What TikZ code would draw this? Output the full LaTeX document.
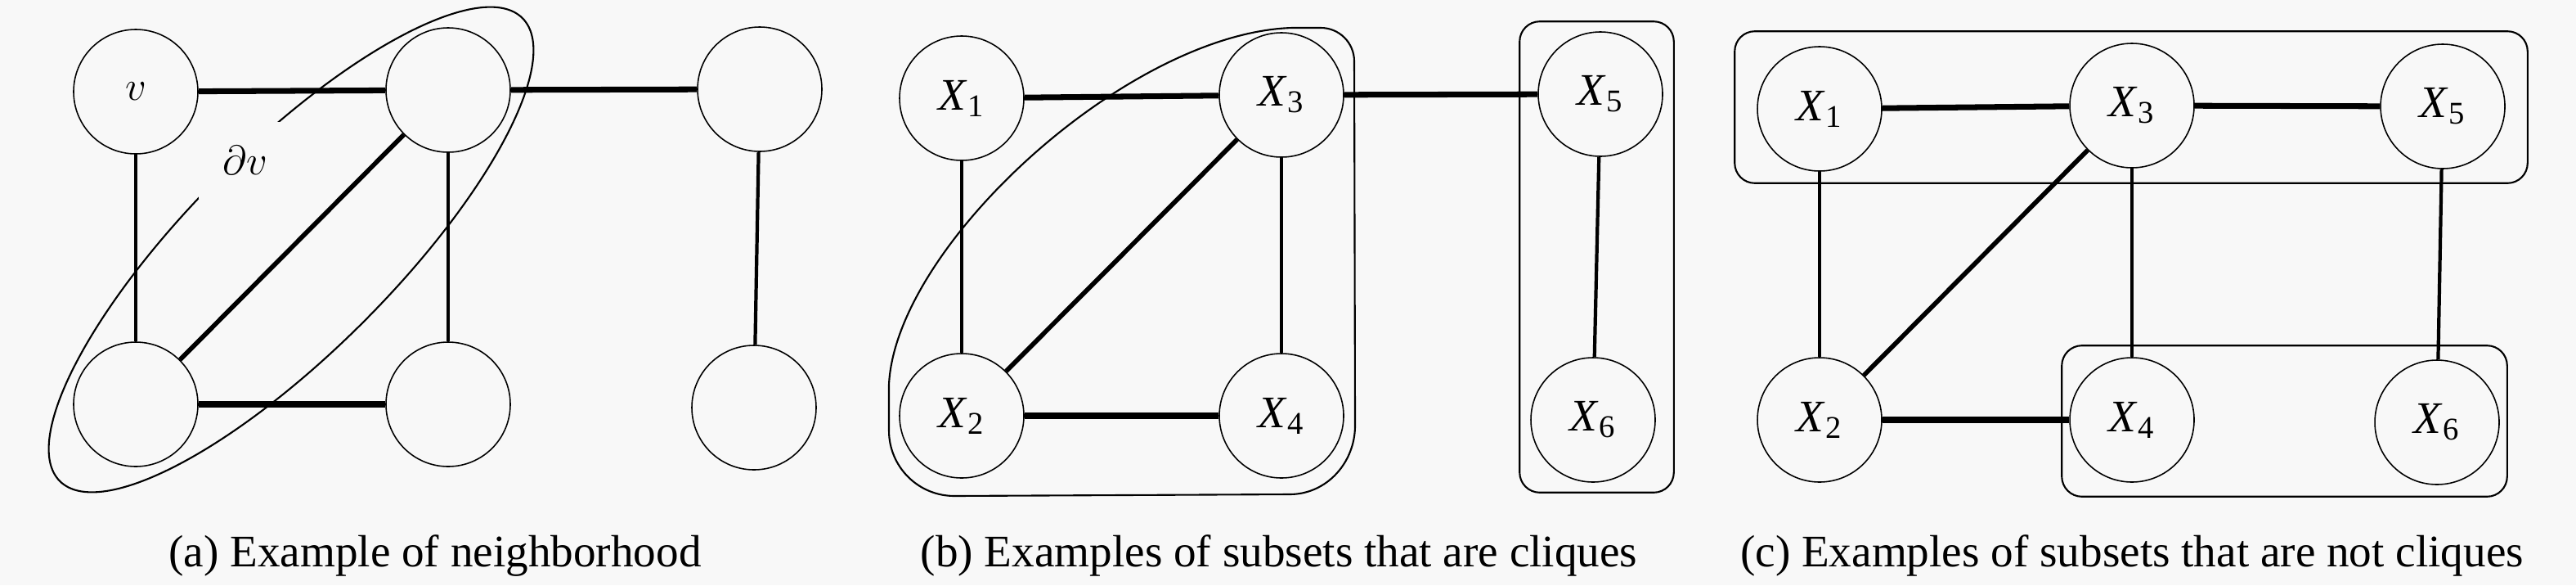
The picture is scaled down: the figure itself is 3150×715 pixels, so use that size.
\documentclass[tikz,border=0pt]{standalone}
\usepackage{fontspec}
\setmainfont{Liberation Serif}
\usepackage{tikz}
\usetikzlibrary{fit,calc}
\definecolor{paper}{RGB}{248,248,248}
\tikzset{
  vnode/.style={circle,draw=black,line width=0.45pt,minimum size=15.2mm,inner sep=0pt,font=\fontsize{15.7}{18}\selectfont},
  thickedge/.style={line width=2pt},
  diagedge/.style={line width=1.6pt},
  midedge/.style={line width=1.2pt},
  thinedge/.style={line width=0.9pt},
  groupbox/.style={rectangle,draw=black,line width=0.6pt,rounded corners=7pt},
  hullline/.style={draw=black,line width=0.6pt},
  caption/.style={anchor=base,font=\fontsize{15.7}{18}\selectfont}
}
\newcommand{\Xn}[1]{\textit{X}\textsubscript{#1}}

\begin{document}
\begin{tikzpicture}[x=0.1mm,y=-0.1mm]
  \fill[paper] (0,0) rectangle (3150,715);
  \useasboundingbox (0,0) rectangle (3150,715);

  % (a) neighborhood
  \node[vnode] (av) at (166,112) {$v$};
  \node[vnode] (aTM) at (548,110) {};
  \node[vnode] (aTR) at (929,109) {};
  \node[vnode] (aBL) at (166,494) {};
  \node[vnode] (aBM) at (548,494) {};
  \node[vnode] (aBR) at (922,498) {};

  \draw[thickedge] (av)--(aTM); \draw[thickedge] (aTM)--(aTR); \draw[thickedge] (aBL)--(aBM);
  \draw[diagedge] (aBL)--(aTM);
  \draw[midedge] (av)--(aBL); \draw[midedge] (aTM)--(aBM); \draw[midedge] (aTR)--(aBR);

  \draw[hullline,rotate around={45:(356,305)}] (356,305) ellipse (400 and 125);
  \node[fill=paper,inner sep=8.5pt,font=\fontsize{15.7}{18}\selectfont] (dv) at (300,196) {$\partial v$};

  \node[caption] (capA) at (532,692) {(a) Example of neighborhood};

  % (b) cliques
  \node[vnode] (bX1) at (1176,120) {\Xn{1}};
  \node[vnode] (bX3) at (1567,116) {\Xn{3}};
  \node[vnode] (bX5) at (1957,115) {\Xn{5}};
  \node[vnode] (bX2) at (1176,508) {\Xn{2}};
  \node[vnode] (bX4) at (1567,508) {\Xn{4}};
  \node[vnode] (bX6) at (1948,513) {\Xn{6}};

  \draw[thickedge] (bX1)--(bX3); \draw[thickedge] (bX3)--(bX5); \draw[thickedge] (bX2)--(bX4);
  \draw[diagedge] (bX2)--(bX3);
  \draw[midedge] (bX1)--(bX2); \draw[midedge] (bX5)--(bX6);
  \draw[thinedge] (bX3)--(bX4);

  \draw[hullline] (1087,470) .. controls (1095,300) and (1380,40) .. (1580,34) -- (1615,34)
    to[out=0,in=90] (1656,75) -- (1657,520) to[out=-90,in=0] (1577,604) -- (1167,606)
    to[out=180,in=-90] (1087,526) -- cycle;
  \node[groupbox,fit=(bX5)(bX6),inner xsep=1.3mm,inner ysep=1.2mm] (bGrp) {};

  \node[caption] (capB) at (1564,692) {(b) Examples of subsets that are cliques};

  % (c) not cliques
  \node[vnode] (cX1) at (2225,133) {\Xn{1}};
  \node[vnode] (cX3) at (2607,129) {\Xn{3}};
  \node[vnode] (cX5) at (2987,130) {\Xn{5}};
  \node[vnode] (cX2) at (2225,513) {\Xn{2}};
  \node[vnode] (cX4) at (2607,513) {\Xn{4}};
  \node[vnode] (cX6) at (2980,516) {\Xn{6}};

  \draw[thickedge] (cX1)--(cX3); \draw[thickedge] (cX3)--(cX5); \draw[thickedge] (cX2)--(cX4);
  \draw[diagedge] (cX2)--(cX3);
  \draw[midedge] (cX3)--(cX4); \draw[midedge] (cX5)--(cX6);
  \draw[thinedge] (cX1)--(cX2);

  \node[groupbox,fit=(cX1)(cX3)(cX5),inner xsep=2.7mm,inner ysep=1.4mm] (cTop) {};
  \node[groupbox,fit=(cX4)(cX6),inner xsep=0.9mm,inner ysep=1.4mm] (cBot) {};

  \node[caption] (capC) at (2607,692) {(c) Examples of subsets that are not cliques};
\end{tikzpicture}
\end{document}
